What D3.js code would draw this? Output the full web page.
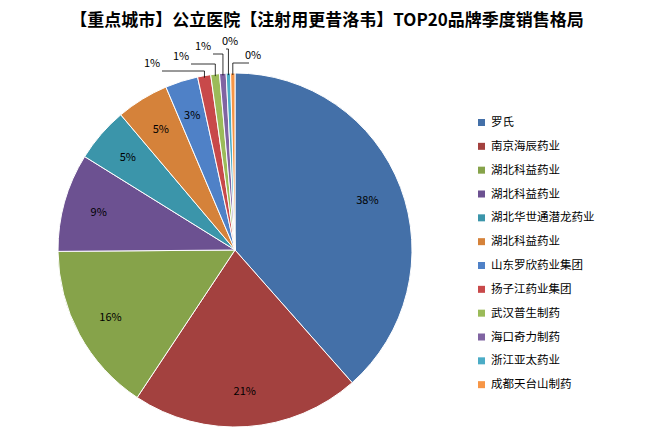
<!DOCTYPE html>
<html><head><meta charset="utf-8">
<script src="https://cdn.jsdelivr.net/npm/d3@7"></script>
<style>body{margin:0;background:#fff}text{font-family:"Noto Sans CJK SC","DejaVu Sans",sans-serif}</style>
</head><body><svg id="chart" width="654" height="439"></svg>
<script>
const names = ["罗氏","南京海辰药业","湖北科益药业","湖北科益药业","湖北华世通潜龙药业","湖北科益药业","山东罗欣药业集团","扬子江药业集团","武汉普生制药","海口奇力制药","浙江亚太药业","成都天台山制药"];
const values = [38.6, 20.9, 15.6, 9.0, 5.0, 4.8, 3.0, 1.2, 0.8, 0.6, 0.4, 0.4];
const labels = ["38%","21%","16%","9%","5%","5%","3%","1%","1%","1%","0%","0%"];
const colors = ["#4470A8","#A3413F","#86A34A","#6C5191","#3B95AA","#D5823A","#4F81C7","#C8494A","#9BBB59","#8064A2","#4BACC6","#F79646"];
// outside label spots for the tiny slices, relative to the pie centre
const outside = {7:[-83,-183],8:[-54,-190],9:[-32,-200],10:[-5,-205],11:[18,-191]};

const svg = d3.select("#chart");
const cx = 235, cy = 250, r = 177;

svg.append("text").attr("x", 327).attr("y", 26).attr("text-anchor", "middle")
  .attr("font-size", 17).attr("font-weight", "bold").text("【重点城市】公立医院【注射用更昔洛韦】TOP20品牌季度销售格局");

const pie = d3.pie().sort(null)(values);
const arc = d3.arc().innerRadius(0).outerRadius(r);
const g = svg.append("g").attr("transform", `translate(${cx},${cy})`);
g.selectAll("path").data(pie).enter().append("path")
  .attr("d", arc).attr("fill", (d, i) => colors[i])
  .attr("stroke", "#fff").attr("stroke-width", 1);

const lab = d3.arc().innerRadius(r * 0.8).outerRadius(r * 0.8);
pie.forEach((d, i) => {
  if (outside[i]) {
    const p = d3.arc().innerRadius(r - 2).outerRadius(r - 2).centroid(d);
    const [lx, ly] = outside[i];
    g.append("polyline").attr("fill", "none").attr("stroke", "#000").attr("stroke-width", 0.8)
      .attr("points", `${p[0]},${p[1]} ${p[0]},${ly + 4} ${lx + (lx < p[0] ? 10 : -4)},${ly + 4}`);
    g.append("text").attr("x", lx).attr("y", ly).attr("text-anchor", "middle")
      .attr("font-size", 11).text(labels[i]);
  } else {
    const c = lab.centroid(d);
    g.append("text").attr("x", c[0]).attr("y", c[1] + 4).attr("text-anchor", "middle")
      .attr("font-size", 11).text(labels[i]);
  }
});

const leg = svg.append("g").attr("transform", "translate(478,122)");
const ly = d3.scaleBand().domain(d3.range(names.length)).range([0, 286]);
names.forEach((n, i) => {
  leg.append("rect").attr("x", 0).attr("y", ly(i) - 3).attr("width", 7).attr("height", 7).attr("fill", colors[i]);
  leg.append("text").attr("x", 13).attr("y", ly(i) + 4).attr("font-size", 11.5).text(n);
});
</script></body></html>
